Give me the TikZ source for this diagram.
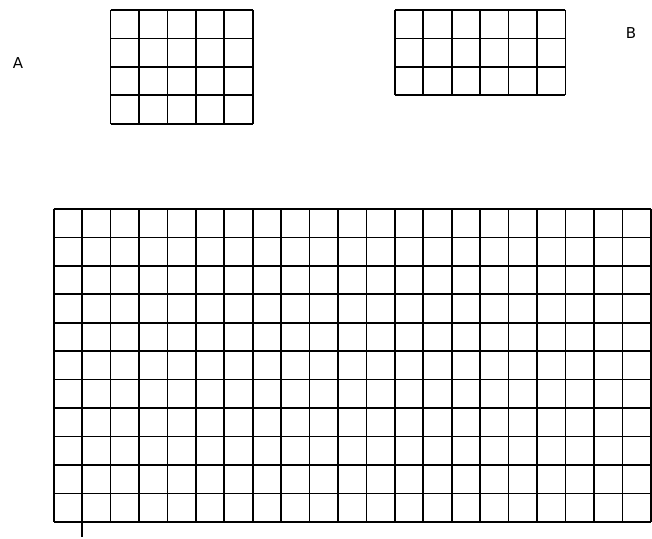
\documentclass[tikz,border=0pt]{standalone}
\usepackage{fontspec}
\setmainfont{DejaVu Sans}
\begin{document}
\begin{tikzpicture}[x=1pt,y=-1pt,
  gridline/.style={line width=1.6pt,black},
  lbl/.style={font=\fontsize{15}{18}\selectfont,inner sep=0pt}]
\useasboundingbox (0,0) rectangle (652,538);
\pgfmathsetmacro{\c}{28.43}
\pgfmathsetmacro{\xo}{53.7}
\pgfmathsetmacro{\yo}{209}
% small grid A: 5 x 4
\foreach \i in {0,...,5}{\draw[gridline] ({\xo+(2+\i)*\c},{\yo-7*\c}) -- ({\xo+(2+\i)*\c},{\yo-3*\c});}
\foreach \j in {0,...,4}{\draw[gridline] ({\xo+2*\c},{\yo-(7-\j)*\c}) -- ({\xo+7*\c},{\yo-(7-\j)*\c});}
% small grid B: 6 x 3
\foreach \i in {0,...,6}{\draw[gridline] ({\xo+(12+\i)*\c},{\yo-7*\c}) -- ({\xo+(12+\i)*\c},{\yo-4*\c});}
\foreach \j in {0,...,3}{\draw[gridline] ({\xo+12*\c},{\yo-(7-\j)*\c}) -- ({\xo+18*\c},{\yo-(7-\j)*\c});}
% big grid 21 x 11
\foreach \i in {0,...,21}{\draw[gridline] ({\xo+\i*\c},\yo) -- ({\xo+\i*\c},{\yo+11*\c});}
\foreach \j in {0,...,11}{\draw[gridline] (\xo,{\yo+\j*\c}) -- ({\xo+21*\c},{\yo+\j*\c});}
% tick below
\coordinate (t1) at ({\xo+\c},{\yo+11*\c});
\coordinate (t2) at ({\xo+\c},537);
\draw[gridline] (t1) -- (t2);
\node[lbl] (A) at (18,63) {A};
\node[lbl] (B) at (631,33) {B};
\end{tikzpicture}
\end{document}
